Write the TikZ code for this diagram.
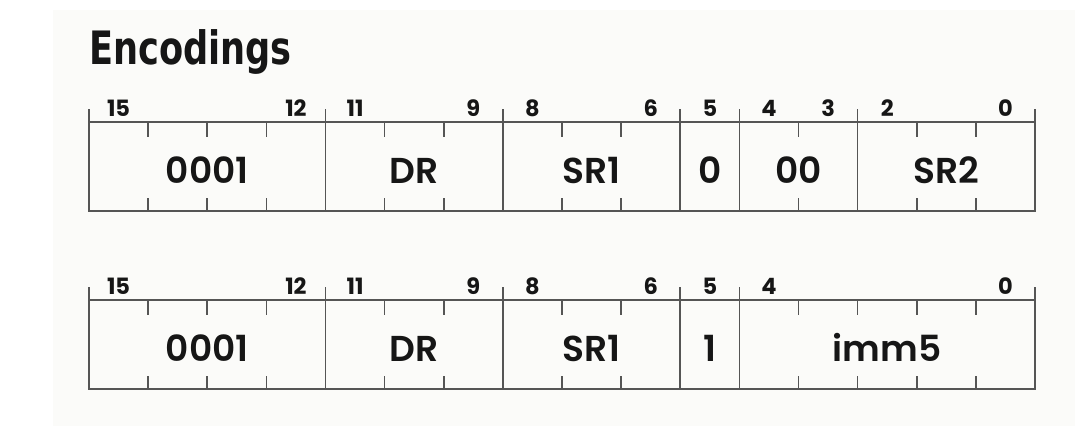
\documentclass[tikz,border=0pt]{standalone}
\usepackage{fontspec}
\setmainfont{Poppins}
\newfontfamily\labfont{Poppins SemiBold}
\newfontfamily\titlefont{DejaVu Sans Condensed}
\definecolor{bgc}{RGB}{251,251,249}
\definecolor{linec}{RGB}{85,85,85}
\definecolor{inkc}{RGB}{22,22,22}
\def\W{59.125}
\def\X{89}
\tikzset{
  fieldbox/.style={draw=linec, line width=1.6pt, rectangle, minimum height=89pt, inner sep=0pt, outer sep=0pt},
  fieldtext/.style={inner sep=0pt, text=inkc, font=\labfont\fontsize{36}{40}\selectfont},
  bitlabel/.style={inner sep=0pt, text=inkc, font=\bfseries\fontsize{22.5}{26}\selectfont},
  tickline/.style={draw=linec, line width=1.6pt},
  sepline/.style={draw=linec, line width=1.6pt},
}
\newcommand{\regfield}[7]{%
  \pgfmathsetmacro{\fx}{\X+#3*\W}%
  \pgfmathsetmacro{\fw}{#4*\W}%
  \node[fieldbox, minimum width=\fw pt, anchor=north west] (#1) at (\fx,#2) {};%
  \node[fieldtext, anchor=base] (#1-t) at (\fx+\fw/2,#2+61) {#5};%
  \draw[sepline] (#1.north west) -- ++(0,-13);%
  \draw[sepline] (#1.north east) -- ++(0,-13);%
  \pgfmathtruncatemacro{\nm}{#4-1}%
  \ifnum\nm>0
    \foreach \k in {1,...,\nm}{%
      \draw[tickline] (#1.north west) ++(\k*\W,0) -- ++(0,15);
      \draw[tickline] (#1.south west) ++(\k*\W,0) -- ++(0,-13);
    }%
  \fi
  \path (#1.north west) ++(\W/2,-14) node[bitlabel] (#1-hi) {#6};%
  \if\relax\detokenize{#7}\relax\else
    \path (#1.north east) ++(-\W/2,-14) node[bitlabel] (#1-lo) {#7};%
  \fi
}
\begin{document}
\begin{tikzpicture}[x=1pt,y=-1pt]
\useasboundingbox (0,0) rectangle (1080,426);
\fill[white] (0,0) rectangle (1080,426);
\fill[bgc] (53,10) rectangle (1075,426);
\node[anchor=base west, inner sep=0pt, text=inkc, font=\titlefont\bfseries\fontsize{46}{50}\selectfont] (title) at (89,64) {\scalebox{0.85}[1]{Encodings}};
% row 1
\regfield{a1}{122}{0}{4}{0001}{15}{12}
\regfield{a2}{122}{4}{3}{DR}{11}{9}
\regfield{a3}{122}{7}{3}{SR1}{8}{6}
\regfield{a4}{122}{10}{1}{0}{5}{}
\regfield{a5}{122}{11}{2}{00}{4}{3}
\regfield{a6}{122}{13}{3}{SR2}{2}{0}
% row 2
\regfield{b1}{300}{0}{4}{0001}{15}{12}
\regfield{b2}{300}{4}{3}{DR}{11}{9}
\regfield{b3}{300}{7}{3}{SR1}{8}{6}
\regfield{b4}{300}{10}{1}{1}{5}{}
\regfield{b5}{300}{11}{5}{imm5}{4}{0}
\end{tikzpicture}
\end{document}
